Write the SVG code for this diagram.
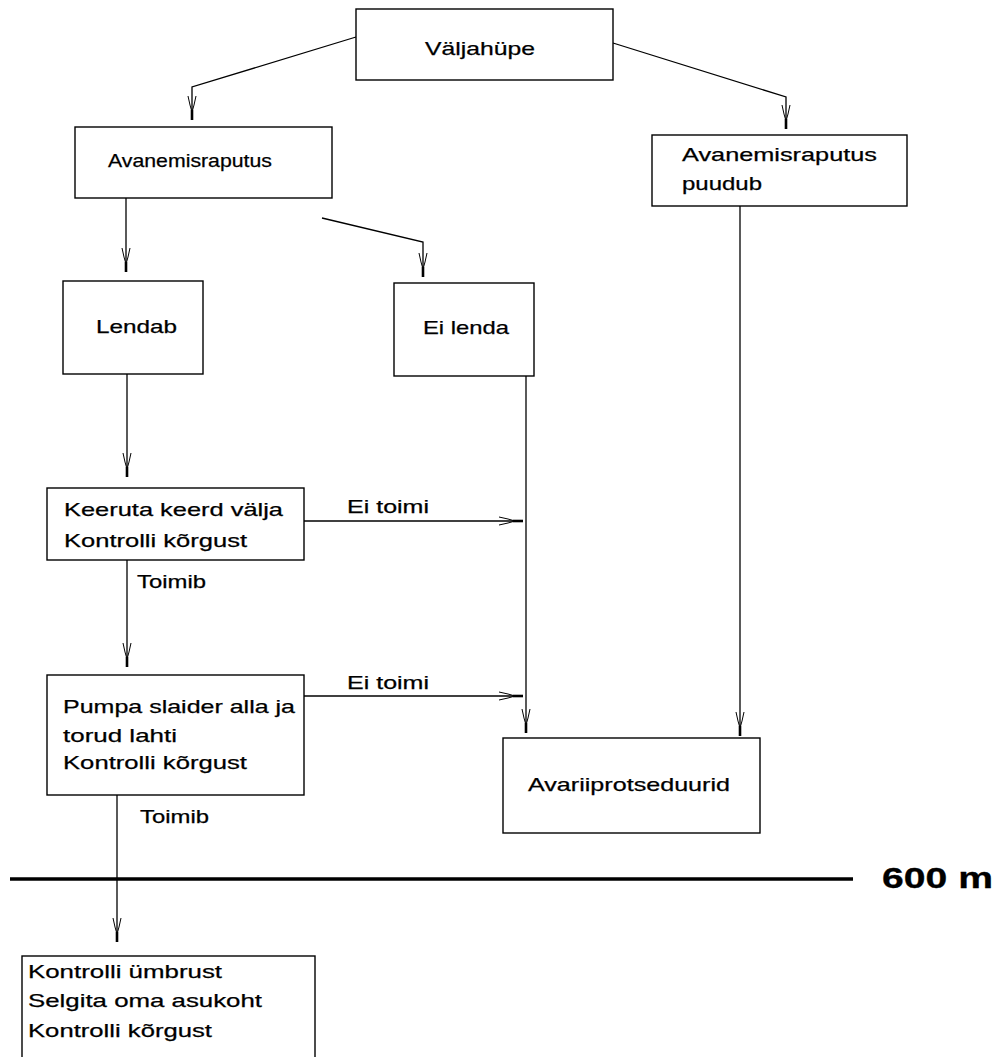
<svg xmlns="http://www.w3.org/2000/svg" width="1001" height="1057" viewBox="0 0 1001 1057">
<style>
.box{fill:#fff;stroke:#000;stroke-width:1.4}
.ln{fill:none;stroke:#000;stroke-width:1.3}
.arr{marker-end:url(#ah)}
text{font-family:"Liberation Sans",Arial,sans-serif;font-size:19px;fill:#000;stroke:#000;stroke-width:0.25}
.big{font-size:29px;font-weight:bold;stroke-width:0.3}
</style>
<defs>
<marker id="ah" markerUnits="userSpaceOnUse" viewBox="-26 -6 28 12" refX="0" refY="0" markerWidth="28" markerHeight="12" orient="auto" overflow="visible">
<path d="M-24,-4 Q-14,-2 -8,0 M-24,4 Q-14,2 -8,0" fill="none" stroke="#000" stroke-width="1"/>
<path d="M-10,0 L0,0" fill="none" stroke="#000" stroke-width="2.6"/>
</marker>
</defs>
<rect width="1001" height="1057" fill="#fff"/>
<g id="connectors">
<polyline class="ln arr" points="356,37 192,87 192,120"/>
<polyline class="ln arr" points="613,43 786,97 786,129"/>
<polyline class="ln arr" points="126,198 126,272"/>
<polyline class="ln arr" points="322,218 423,242 423,277"/>
<polyline class="ln arr" points="127,374 127,477"/>
<polyline class="ln arr" points="304,521 523,521"/>
<polyline class="ln arr" points="526,376 526,733"/>
<polyline class="ln arr" points="127,560 127,667"/>
<polyline class="ln arr" points="304,696 523,696"/>
<polyline class="ln arr" points="740,206 740,736"/>
<polyline class="ln arr" points="117,795 117,942"/>
<text x="347" y="513" textLength="82" lengthAdjust="spacingAndGlyphs">Ei toimi</text>
<text x="137" y="588" textLength="69" lengthAdjust="spacingAndGlyphs">Toimib</text>
<text x="347" y="689" textLength="82" lengthAdjust="spacingAndGlyphs">Ei toimi</text>
<text x="140" y="823" textLength="69" lengthAdjust="spacingAndGlyphs">Toimib</text>
</g>
<g id="altitude">
<line x1="10" y1="879" x2="853" y2="879" stroke="#000" stroke-width="3.5"/>
<text class="big" x="882" y="888" textLength="111" lengthAdjust="spacingAndGlyphs">600 m</text>
</g>
<g id="n-valjahupe">
<rect class="box" x="356" y="9" width="257" height="71"/>
<text x="425" y="55" textLength="110" lengthAdjust="spacingAndGlyphs">Väljahüpe</text>
</g>
<g id="n-avanemisraputus">
<rect class="box" x="75" y="127" width="257" height="71"/>
<text x="108" y="167" textLength="164" lengthAdjust="spacingAndGlyphs">Avanemisraputus</text>
</g>
<g id="n-puudub">
<rect class="box" x="652" y="135" width="255" height="71"/>
<text x="682" y="161" textLength="195" lengthAdjust="spacingAndGlyphs">Avanemisraputus</text>
<text x="682" y="190" textLength="80" lengthAdjust="spacingAndGlyphs">puudub</text>
</g>
<g id="n-lendab">
<rect class="box" x="63" y="281" width="140" height="93"/>
<text x="96" y="333" textLength="81" lengthAdjust="spacingAndGlyphs">Lendab</text>
</g>
<g id="n-eilenda">
<rect class="box" x="394" y="283" width="140" height="93"/>
<text x="423" y="334" textLength="86" lengthAdjust="spacingAndGlyphs">Ei lenda</text>
</g>
<g id="n-keeruta">
<rect class="box" x="47" y="488" width="257" height="72"/>
<text x="64" y="516" textLength="219" lengthAdjust="spacingAndGlyphs">Keeruta keerd välja</text>
<text x="64" y="547" textLength="183" lengthAdjust="spacingAndGlyphs">Kontrolli kõrgust</text>
</g>
<g id="n-pumpa">
<rect class="box" x="47" y="675" width="257" height="120"/>
<text x="63" y="713" textLength="232" lengthAdjust="spacingAndGlyphs">Pumpa slaider alla ja</text>
<text x="63" y="742" textLength="114" lengthAdjust="spacingAndGlyphs">torud lahti</text>
<text x="63" y="769" textLength="184" lengthAdjust="spacingAndGlyphs">Kontrolli kõrgust</text>
</g>
<g id="n-avarii">
<rect class="box" x="503" y="738" width="257" height="95"/>
<text x="528" y="791" textLength="202" lengthAdjust="spacingAndGlyphs">Avariiprotseduurid</text>
</g>
<g id="n-kontrolli">
<rect class="box" x="22" y="956" width="293" height="120"/>
<text x="28" y="978" textLength="194" lengthAdjust="spacingAndGlyphs">Kontrolli ümbrust</text>
<text x="28" y="1007" textLength="234" lengthAdjust="spacingAndGlyphs">Selgita oma asukoht</text>
<text x="28" y="1037" textLength="184" lengthAdjust="spacingAndGlyphs">Kontrolli kõrgust</text>
</g>
</svg>
